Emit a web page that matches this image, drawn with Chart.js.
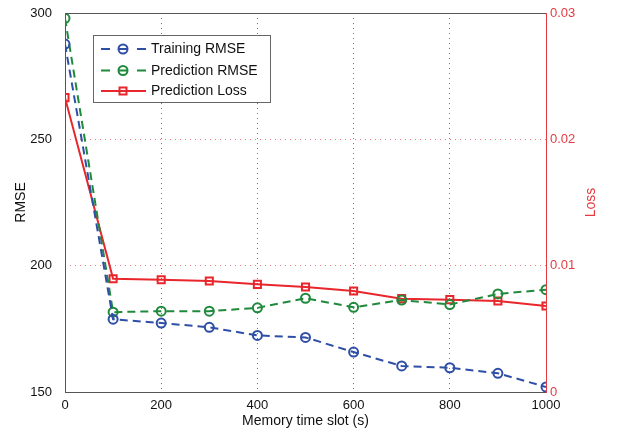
<!DOCTYPE html>
<html>
<head>
<meta charset="utf-8">
<script src="https://cdn.jsdelivr.net/npm/chart.js@4"></script>
<style>
  body { margin: 0; background: #fff; }
  #grafica { display: block; }
</style>
</head>
<body>
<canvas id="grafica" width="617" height="437"></canvas>
<script>
const $grafica = document.querySelector("#grafica");

// memory time slot (s)
const slots = [0, 100, 200, 300, 400, 500, 600, 700, 800, 900, 1000];

const trainingRmse = [287.7, 178.8, 177.3, 175.6, 172.4, 171.6, 165.8, 160.3, 159.6, 157.4, 152.0];
const predictionRmse = [297.9, 181.6, 182.0, 182.0, 183.3, 187.1, 183.5, 186.4, 184.6, 188.8, 190.5];
const predictionLoss = [0.0233, 0.00897, 0.00889, 0.00879, 0.00852, 0.00831, 0.00799, 0.00739, 0.00731, 0.0072, 0.00681];

const xTicks = [0, 200, 400, 600, 800, 1000];
const rmseTicks = [150, 200, 250, 300];
const lossTicks = [0, 0.01, 0.02, 0.03];

const azul = '#2f4fa6';
const verde = '#1f8a3b';
const rojo = '#e8262c';
const rojoEje = '#e53a40';
const fuente = "'Liberation Sans', Arial, sans-serif";

function puntos(valores) {
    return slots.map((x, i) => ({ x: x, y: valores[i] }));
}

// leyenda dibujada a mano, al estilo de matlab
const leyenda = {
    id: 'leyenda',
    afterDraw(chart) {
        const ctx = chart.ctx;
        const x0 = 93, y0 = 35, w = 177, h = 67;
        ctx.save();
        ctx.fillStyle = '#fff';
        ctx.fillRect(x0, y0, w, h);
        ctx.strokeStyle = '#666';
        ctx.lineWidth = 1;
        ctx.strokeRect(x0 + 0.5, y0 + 0.5, w, h);
        const filas = [49, 70.5, 91];
        chart.data.datasets.forEach((ds, i) => {
            const y = filas[i];
            ctx.strokeStyle = ds.borderColor;
            ctx.lineWidth = 2;
            ctx.beginPath();
            if (ds.borderDash) {
                ctx.moveTo(101, y); ctx.lineTo(110, y);
                ctx.moveTo(137, y); ctx.lineTo(146, y);
            } else {
                ctx.moveTo(101, y); ctx.lineTo(146, y);
            }
            ctx.stroke();
            ctx.beginPath();
            if (ds.pointStyle === 'rect') {
                ctx.rect(119.5, y - 3.5, 7, 7);
                ctx.moveTo(119.5, y); ctx.lineTo(126.5, y);
            } else {
                ctx.arc(123, y, 4.5, 0, Math.PI * 2);
                ctx.moveTo(118.5, y); ctx.lineTo(127.5, y);
            }
            ctx.stroke();
            ctx.fillStyle = '#111';
            ctx.font = '14px ' + fuente;
            ctx.textBaseline = 'middle';
            ctx.fillText(ds.label, 151, y + 0.5);
        });
        ctx.restore();
    }
};

// marco superior y titulo del eje derecho
const marco = {
    id: 'marco',
    afterDraw(chart) {
        const ctx = chart.ctx;
        const a = chart.chartArea;
        ctx.save();
        ctx.strokeStyle = '#555';
        ctx.lineWidth = 1;
        ctx.beginPath();
        ctx.moveTo(a.left, a.top + 0.5);
        ctx.lineTo(a.right, a.top + 0.5);
        ctx.stroke();
        ctx.translate(591, (a.top + a.bottom) / 2);
        ctx.rotate(-Math.PI / 2);
        ctx.fillStyle = rojoEje;
        ctx.font = '14px ' + fuente;
        ctx.textAlign = 'center';
        ctx.textBaseline = 'middle';
        ctx.fillText('Loss', 0, 0);
        ctx.restore();
    }
};

new Chart($grafica, {
    type: 'line',
    data: {
        datasets: [
            {
                label: 'Training RMSE',
                data: puntos(trainingRmse),
                borderColor: azul,
                backgroundColor: 'rgba(0,0,0,0)',
                borderWidth: 2,
                borderDash: [8, 5],
                pointStyle: 'circle',
                pointRadius: 4.5,
                pointBorderWidth: 2,
                yAxisID: 'y',
            },
            {
                label: 'Prediction RMSE',
                data: puntos(predictionRmse),
                borderColor: verde,
                backgroundColor: 'rgba(0,0,0,0)',
                borderWidth: 2,
                borderDash: [8, 5],
                pointStyle: 'circle',
                pointRadius: 4.5,
                pointBorderWidth: 2,
                yAxisID: 'y',
            },
            {
                label: 'Prediction Loss',
                data: puntos(predictionLoss),
                borderColor: rojo,
                backgroundColor: 'rgba(0,0,0,0)',
                borderWidth: 2,
                pointStyle: 'rect',
                pointRadius: 5,
                pointBorderWidth: 2,
                yAxisID: 'y1',
            },
        ],
    },
    options: {
        responsive: false,
        animation: false,
        layout: { padding: { top: 13, left: 0, right: 0, bottom: 0 } },
        plugins: {
            legend: { display: false },
            tooltip: { enabled: false },
        },
        scales: {
            x: {
                type: 'linear',
                min: 0,
                max: 1000,
                afterBuildTicks: s => { s.ticks = xTicks.map(v => ({ value: v })); },
                afterFit: s => { s.height = 45; },
                grid: { color: '#777', drawTicks: false },
                border: { color: '#555', width: 1, dash: [1, 4] },
                ticks: {
                    color: '#111',
                    padding: 6,
                    font: { family: fuente, size: 13 },
                    callback: v => String(v),
                },
                title: {
                    display: true,
                    text: 'Memory time slot (s)',
                    color: '#111',
                    font: { family: fuente, size: 14 },
                    padding: { top: 0, bottom: 7 },
                },
            },
            y: {
                position: 'left',
                min: 150,
                max: 300,
                afterBuildTicks: s => { s.ticks = rmseTicks.map(v => ({ value: v })); },
                afterFit: s => { s.width = 65; },
                grid: { display: false },
                border: { color: '#555', width: 1 },
                ticks: { color: '#111', padding: 5, font: { family: fuente, size: 13 } },
                title: {
                    display: true,
                    text: 'RMSE',
                    color: '#111',
                    font: { family: fuente, size: 14 },
                    padding: { top: 13, bottom: 0 },
                },
            },
            y1: {
                position: 'right',
                min: 0,
                max: 0.03,
                afterBuildTicks: s => { s.ticks = lossTicks.map(v => ({ value: v })); },
                afterFit: s => { s.width = 71; },
                grid: { color: 'rgba(225,90,100,0.8)', drawTicks: false },
                border: { color: rojoEje, width: 1, dash: [1, 4] },
                ticks: {
                    color: rojoEje,
                    padding: 4,
                    font: { family: fuente, size: 13 },
                    callback: v => String(Number(v.toFixed(2))),
                },
            },
        },
    },
    plugins: [marco, leyenda],
});
</script>
</body>
</html>
